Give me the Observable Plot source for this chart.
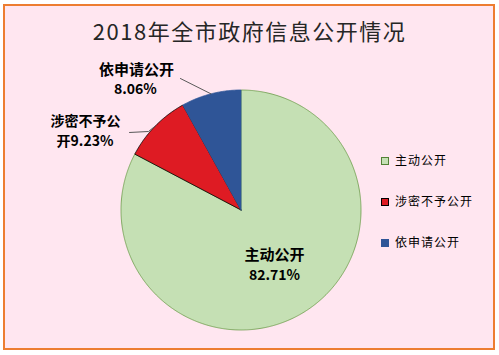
<!DOCTYPE html>
<html>
<head>
<meta charset="utf-8">
<script src="https://cdn.jsdelivr.net/npm/d3@7"></script>
<script src="https://cdn.jsdelivr.net/npm/@observablehq/plot@0.6"></script>
<style>
  html, body { margin: 0; padding: 0; background: #ffffff; }
  #wrap { position: relative; width: 499px; height: 355px; overflow: hidden; background: #ffffff; }
  #frame { position: absolute; left: 3px; top: 4px; width: 488px; height: 342px; border: 2px solid #ED7D31; background: #FFE6F0; }
  #title { position: absolute; left: 0; width: 499px; top: 15px; text-align: center; font-family: "Noto Sans CJK SC", sans-serif; font-size: 22px; letter-spacing: 1.5px; color: #262626; line-height: 30px; }
  #chart { position: absolute; left: 0; top: 0; }
  .leg { position: absolute; left: 381px; font-family: "Noto Sans CJK SC", sans-serif; font-size: 12px; letter-spacing: 1px; color: #000; line-height: 16px; white-space: nowrap; }
  .leg span.sw { display: inline-block; width: 8px; height: 8px; box-sizing: border-box; margin-right: 6px; vertical-align: -0px; }
</style>
</head>
<body>
<div id="wrap">
  <div id="frame"></div>
  <div id="chart"></div>
  <div id="title"></div>
</div>
<script>
// ---- data ----
const title = "2018年全市政府信息公开情况";
const categories = ["主动公开", "涉密不予公开", "依申请公开"];
const shares = [82.71, 9.23, 8.06];
const pctLabels = ["82.71%", "9.23%", "8.06%"];

// ---- styles ----
const fills = ["#C5E0B4", "#DE1B23", "#2F5597"];
const strokes = ["#6A9A48", "#000000", "#2F5597"];
const legendBorders = ["#538135", "#000000", "#2F5597"];

document.getElementById("title").textContent = title;

// build slice polygons (angle clockwise from 12 o'clock, unit radius)
const total = d3.sum(shares);
let acc = 0;
const slices = categories.map((name, i) => {
  const a0 = acc / total * 2 * Math.PI;
  acc += shares[i];
  const a1 = acc / total * 2 * Math.PI;
  const n = Math.max(2, Math.ceil((a1 - a0) / (Math.PI / 360)));
  const pts = [{x: 0, y: 0}];
  for (let k = 0; k <= n; k++) {
    const a = a0 + (a1 - a0) * k / n;
    pts.push({x: Math.sin(a), y: Math.cos(a)});
  }
  pts.push({x: 0, y: 0});
  const mid = (a0 + a1) / 2;
  return {name, i, pts, mid};
});
const R = 120; // px per unit (for converting pixel offsets)
const edge = s => ({x: Math.sin(s.mid), y: Math.cos(s.mid)});
const inner = (s, r) => ({x: r * Math.sin(s.mid), y: r * Math.cos(s.mid)});

const sMain = slices[0], sSecret = slices[1], sApply = slices[2];
const eApply = edge(sApply), eSecret = edge(sSecret);
const off = (p, dx, dy) => ({x: p.x + dx / R, y: p.y - dy / R});

const leaderApply = [off(eApply, -30.5, -15.3), eApply];
const leaderSecret = [off(eSecret, -25.7, 6.4), off(eSecret, -6.7, 5.4), eSecret];

const font = "'Noto Sans CJK SC', sans-serif";
const mMain = inner(sMain, 0.5);

const marks = slices.map(s => Plot.line(s.pts, {x: "x", y: "y", fill: fills[s.i], stroke: strokes[s.i], strokeWidth: 0.8, curve: "linear"}));
marks.push(
  Plot.line(leaderApply, {x: "x", y: "y", stroke: "#595959", strokeWidth: 1}),
  Plot.line(leaderSecret, {x: "x", y: "y", stroke: "#595959", strokeWidth: 1}),
  // main slice label
  Plot.text([mMain], {x: "x", y: "y", text: () => categories[0], dx: 2.5, dy: -6, fontSize: 15, fontWeight: "bold", fill: "#000", fontFamily: font}),
  Plot.text([mMain], {x: "x", y: "y", text: () => pctLabels[0], dx: 2.5, dy: 14, fontSize: 14, fontWeight: "bold", fill: "#000", fontFamily: font}),
  // apply label
  Plot.text([eApply], {x: "x", y: "y", text: () => categories[2], dx: -74.5, dy: -23.3, fontSize: 15, fontWeight: "bold", fill: "#000", fontFamily: font}),
  Plot.text([eApply], {x: "x", y: "y", text: () => pctLabels[2], dx: -75.5, dy: -4.3, fontSize: 14, fontWeight: "bold", fill: "#000", fontFamily: font}),
  // secret label (wrapped)
  Plot.text([eSecret], {x: "x", y: "y", text: () => categories[1].slice(0, 5), dx: -69.7, dy: -4.5, fontSize: 14, fontWeight: "bold", fill: "#000", fontFamily: font}),
  Plot.text([eSecret], {x: "x", y: "y", text: () => categories[1].slice(5) + pctLabels[1], dx: -70.2, dy: 15.5, fontSize: 14, fontWeight: "bold", fill: "#000", fontFamily: font})
);

const chart = Plot.plot({
  width: 499,
  height: 355,
  margin: 0,
  x: {domain: [-1, 1], range: [120.5, 360.5], axis: null},
  y: {domain: [-1, 1], range: [329.5, 89.5], axis: null},
  style: {background: "transparent", overflow: "visible"},
  marks
});
document.getElementById("chart").appendChild(chart);

// legend
const legTops = [152, 193, 234];
categories.forEach((c, i) => {
  const d = document.createElement("div");
  d.className = "leg";
  d.style.top = legTops[i] + "px";
  const sw = document.createElement("span");
  sw.className = "sw";
  sw.style.background = fills[i];
  sw.style.border = "1px solid " + legendBorders[i];
  d.appendChild(sw);
  d.appendChild(document.createTextNode(c));
  document.getElementById("wrap").appendChild(d);
});
</script>
</body>
</html>
